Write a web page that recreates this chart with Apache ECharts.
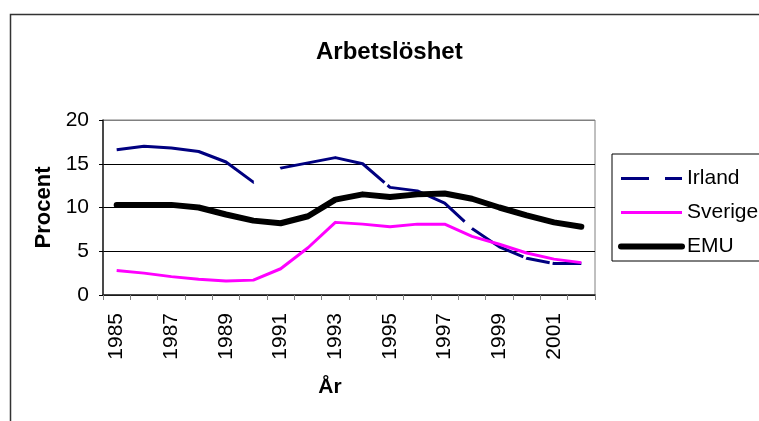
<!DOCTYPE html>
<html>
<head>
<meta charset="utf-8">
<script src="https://cdn.jsdelivr.net/npm/echarts@6/dist/echarts.min.js"></script>
<style>
html,body{margin:0;padding:0;background:#fff;}
#c{width:759px;height:421px;}
</style>
</head>
<body>
<div id="c"></div>
<script>
var years = ['1985','1986','1987','1988','1989','1990','1991','1992','1993','1994','1995','1996','1997','1998','1999','2000','2001','2002'];
var irland = [16.6,17.0,16.8,16.4,15.2,12.9,14.5,15.1,15.7,15.0,12.3,11.9,10.5,7.6,5.5,4.2,3.6,3.6];
var sverige = [2.8,2.5,2.1,1.8,1.6,1.7,3.0,5.4,8.3,8.1,7.8,8.1,8.1,6.7,5.8,4.8,4.1,3.7];
var emu = [10.3,10.3,10.3,10.0,9.2,8.5,8.2,9.0,10.9,11.5,11.2,11.5,11.6,11.0,10.0,9.1,8.3,7.8];
var seriesNames = ['Irland','Sverige','EMU'];
var yTicks = [0,5,10,15,20];

var FONT = '"Liberation Sans", Arial, sans-serif';
var chart = echarts.init(document.getElementById('c'), null, {renderer:'canvas'});
chart.setOption({
  backgroundColor:'#fff',
  animation:false,
  textStyle:{fontFamily:FONT},
  graphic:[{
    type:'rect', left:8, top:12, silent:true,
    shape:{x:0,y:0,width:800,height:500},
    style:{fill:'none', stroke:'#333', lineWidth:1.5}
  }],
  title:{
    text:'Arbetslöshet', left:311, top:35,
    textStyle:{fontFamily:FONT, fontSize:24, fontWeight:'bold', color:'#000'}
  },
  legend:{
    orient:'vertical', left:612, top:154,
    padding:[14,40,4,6],
    itemWidth:61, itemHeight:14, itemGap:13,
    borderColor:'#000', borderWidth:1,
    itemStyle:{opacity:0},
    textStyle:{fontFamily:FONT, fontSize:21, color:'#000'},
    data:[
      {name:seriesNames[0], itemStyle:{opacity:0}, lineStyle:{width:3, type:[28,16], color:'#000080'}},
      {name:seriesNames[1], itemStyle:{opacity:0}, lineStyle:{width:3, color:'#ff00ff'}},
      {name:seriesNames[2], itemStyle:{opacity:0}, lineStyle:{width:6, color:'#000'}}
    ]
  },
  grid:{left:103, right:164, top:120, bottom:126, show:true, borderColor:'#808080', borderWidth:1, backgroundColor:'transparent'},
  xAxis:{
    type:'category', data:years, boundaryGap:true,
    name:'År', nameLocation:'middle', nameGap:82,
    nameTextStyle:{fontFamily:FONT, fontSize:21, fontWeight:'bold', color:'#000', padding:[0,38,0,0]},
    axisLine:{lineStyle:{color:'#222', width:1.5}},
    axisTick:{show:true, interval:0, length:5, lineStyle:{color:'#808080'}},
    axisLabel:{interval:1, rotate:90, margin:18, fontFamily:FONT, fontSize:21, color:'#000'},
    splitLine:{show:false}
  },
  yAxis:{
    type:'value', min:yTicks[0], max:yTicks[yTicks.length-1], interval:5,
    name:'Procent', nameLocation:'middle', nameGap:47,
    nameTextStyle:{fontFamily:FONT, fontSize:22, fontWeight:'bold', color:'#000'},
    axisLine:{show:true, lineStyle:{color:'#222', width:1.5}},
    axisTick:{show:true, length:4, lineStyle:{color:'#000'}},
    axisLabel:{margin:14, fontFamily:FONT, fontSize:21, color:'#000'},
    splitLine:{show:true, lineStyle:{color:['#000','#000','#000','#000','#808080'], width:1}}
  },
  series:[
    {name:seriesNames[0], type:'line', data:irland, symbol:'none',
     lineStyle:{color:'#000080', width:3, type:[146,30,113,4,88,10,59,3,24,3,200], join:'round'},
     itemStyle:{color:'#000080'}},
    {name:seriesNames[1], type:'line', data:sverige, symbol:'none',
     lineStyle:{color:'#ff00ff', width:3, join:'round'}, itemStyle:{color:'#ff00ff'}},
    {name:seriesNames[2], type:'line', data:emu, symbol:'none',
     lineStyle:{color:'#000', width:6, join:'round', cap:'round'}, itemStyle:{color:'#000'}}
  ]
});
</script>
</body>
</html>
